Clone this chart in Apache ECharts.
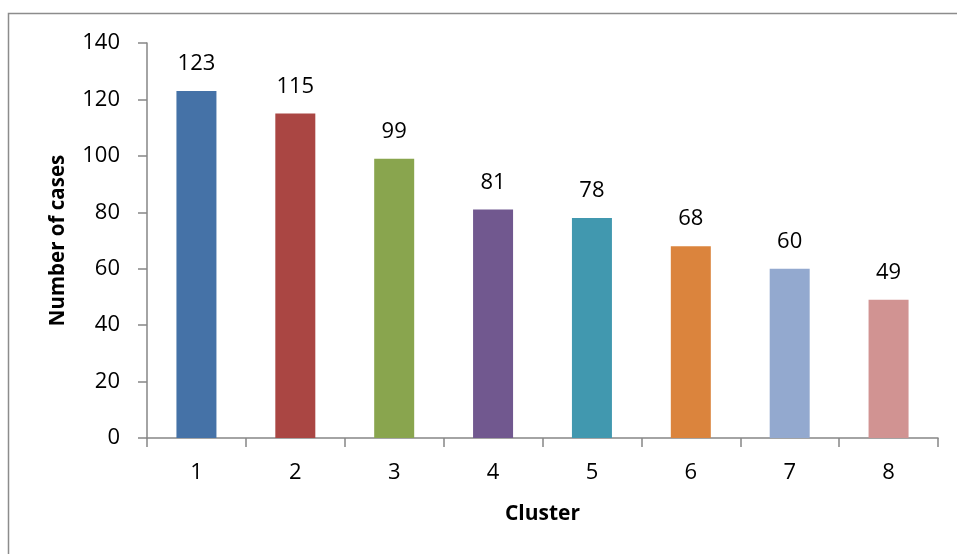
<!DOCTYPE html>
<html>
<head>
<meta charset="utf-8">
<script src="https://cdn.jsdelivr.net/npm/echarts@6/dist/echarts.min.js"></script>
<style>
  html, body { margin: 0; padding: 0; background: #fff; }
  #chart { width: 957px; height: 554px; }
</style>
</head>
<body>
<div id="chart"></div>
<script>
// Case counts per cluster
const clusters = ['1', '2', '3', '4', '5', '6', '7', '8'];
const caseCounts = [123, 115, 99, 81, 78, 68, 60, 49];
const barColors = ['#4572A7', '#AA4643', '#89A54E', '#71588F', '#4198AF', '#DB843D', '#93A9CF', '#D19392'];

const FONT = '"Open Sans", "Liberation Sans", sans-serif';
const AXIS_GREY = '#868686';

const chart = echarts.init(document.getElementById('chart'));
chart.setOption({
  animation: false,
  backgroundColor: '#ffffff',
  graphic: [{
    type: 'rect',
    shape: { x: 8.5, y: 13.5, width: 1000, height: 600 },
    style: { fill: 'none', stroke: '#8c8c8c', lineWidth: 1.5 },
    silent: true
  }],
  grid: { left: 147, right: 19, top: 43, bottom: 116 },
  xAxis: {
    type: 'category',
    data: clusters,
    name: 'Cluster',
    nameLocation: 'middle',
    nameGap: 66,
    nameTextStyle: { fontFamily: FONT, fontSize: 21, fontWeight: 'bold', color: '#000' },
    axisLine: { lineStyle: { color: AXIS_GREY, width: 1.5 } },
    axisTick: { show: true, length: 9, alignWithLabel: false, lineStyle: { color: AXIS_GREY, width: 1.5 } },
    axisLabel: { margin: 24, fontFamily: FONT, fontSize: 22, color: '#000' }
  },
  yAxis: {
    type: 'value',
    min: 0,
    max: 140,
    interval: 20,
    name: 'Number of cases',
    nameLocation: 'middle',
    nameGap: 78,
    nameTextStyle: { fontFamily: FONT, fontSize: 20.5, fontWeight: 'bold', color: '#000' },
    splitLine: { show: false },
    axisLine: { show: true, lineStyle: { color: AXIS_GREY, width: 1.5 } },
    axisTick: { show: true, length: 9, lineStyle: { color: AXIS_GREY, width: 1.5 } },
    axisLabel: { margin: 27, fontFamily: FONT, fontSize: 22, color: '#000' }
  },
  series: [{
    type: 'bar',
    data: caseCounts.map((v, i) => ({ value: v, itemStyle: { color: barColors[i] } })),
    barWidth: 40,
    label: {
      show: true,
      position: 'top',
      distance: 16,
      fontFamily: FONT,
      fontSize: 22,
      color: '#000'
    }
  }]
});
</script>
</body>
</html>
